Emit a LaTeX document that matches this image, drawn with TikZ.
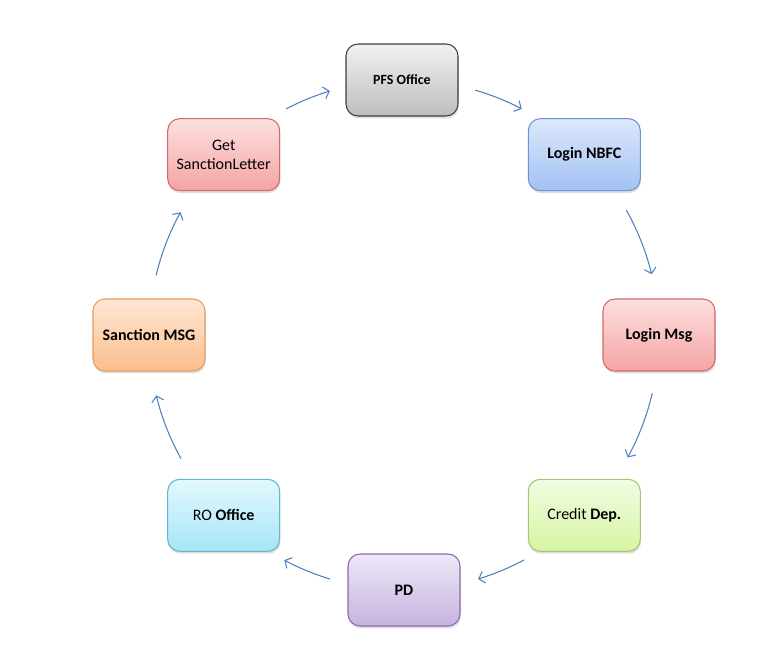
\documentclass[tikz,border=0pt]{standalone}
\usepackage{fontspec}
\setmainfont{Carlito}
\usetikzlibrary{arrows.meta,shadows}

\definecolor{arrowblue}{HTML}{4F81BD}
\definecolor{grayA}{HTML}{F2F2F2}\definecolor{grayB}{HTML}{BDBDBD}\definecolor{grayL}{HTML}{3F3F3F}
\definecolor{blueA}{HTML}{DCE8FC}\definecolor{blueB}{HTML}{A3C1F4}\definecolor{blueL}{HTML}{6F94D2}
\definecolor{redA}{HTML}{FDE0E0}\definecolor{redB}{HTML}{F5A3A3}\definecolor{redL}{HTML}{CF6A6A}
\definecolor{greenA}{HTML}{F2FCE3}\definecolor{greenB}{HTML}{D5F5A3}\definecolor{greenL}{HTML}{A6C76F}
\definecolor{purpleA}{HTML}{EEE8F7}\definecolor{purpleB}{HTML}{C5B3DE}\definecolor{purpleL}{HTML}{8A6BB0}
\definecolor{cyanA}{HTML}{E3F8FE}\definecolor{cyanB}{HTML}{A6E5F6}\definecolor{cyanL}{HTML}{62B6CF}
\definecolor{orangeA}{HTML}{FEE7D5}\definecolor{orangeB}{HTML}{FBBE8C}\definecolor{orangeL}{HTML}{E39D5E}

\tikzset{
  box/.style={draw, rounded corners=9pt, minimum width=84pt, minimum height=54pt,
    align=center, font=\fontsize{12}{14.5}\selectfont, line width=0.8pt,
    drop shadow={opacity=0.25, shadow xshift=0.6pt, shadow yshift=-1.8pt}},
  bbox/.style={box, font=\fontsize{12}{14.5}\selectfont\bfseries},
  graybox/.style={draw=grayL, top color=grayA, bottom color=grayB},
  bluebox/.style={draw=blueL, top color=blueA, bottom color=blueB},
  redbox/.style={draw=redL, top color=redA, bottom color=redB},
  greenbox/.style={draw=greenL, top color=greenA, bottom color=greenB},
  purplebox/.style={draw=purpleL, top color=purpleA, bottom color=purpleB},
  cyanbox/.style={draw=cyanL, top color=cyanA, bottom color=cyanB},
  orangebox/.style={draw=orangeL, top color=orangeA, bottom color=orangeB},
  arr/.style={draw=arrowblue, line width=0.8pt, -{Straight Barb[length=4pt,width=9pt]}}
}

\begin{document}
\begin{tikzpicture}[x=0.75pt, y=0.75pt]
  \useasboundingbox (-404,-319) rectangle (358,335);

  % the eight stations round the cycle
  \node[bbox, graybox, font=\fontsize{10.5}{12}\selectfont\bfseries] (pfs) at (-2,255) {PFS Office};
  \node[bbox, bluebox] (nbfc) at (45:255) {Login NBFC};
  \node[bbox, redbox] (msg) at (0:255) {Login Msg};
  \node[box, greenbox] (credit) at (-45:255) {Credit \textbf{Dep.}};
  \node[bbox, purplebox] (pd) at (-90:255) {PD};
  \node[box, cyanbox] (ro) at (-135:255) {RO \textbf{Office}};
  \node[bbox, orangebox] (sanction) at (180:255) {Sanction MSG};
  \node[box, redbox] (get) at (135:255) {Get\\SanctionLetter};

  % arcs between the stations
  \foreach \s/\e [count=\i] in {117.5/106.9, 73.8/62.5, 29.3/13.8, -13.2/-28.7,
                                -61.9/-73.1, -106.9/-118, -151/-166.3, 166.5/151.2}{
    \coordinate (a\i) at (\s:255);
    \draw[arr] (a\i) arc[start angle=\s, end angle=\e, radius=255];
  }
\end{tikzpicture}
\end{document}
